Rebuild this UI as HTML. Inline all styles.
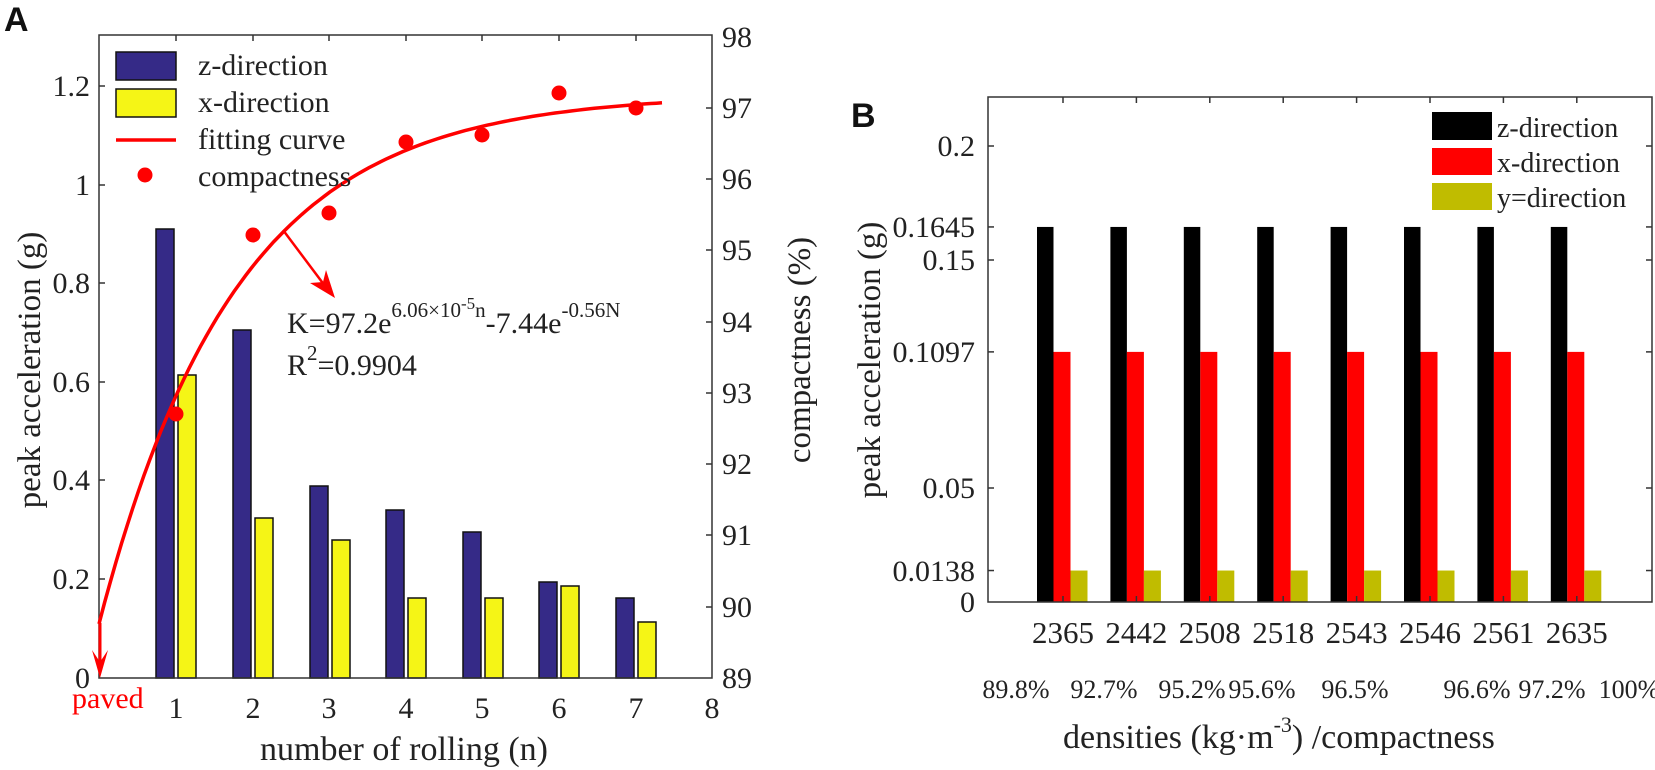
<!DOCTYPE html>
<html><head><meta charset="utf-8"><style>
html,body{margin:0;padding:0;background:#fff;}
svg{display:block;}
text{font-family:"Liberation Serif",serif;fill:#222;}
</style></head><body>
<svg width="1655" height="770" viewBox="0 0 1655 770" xmlns="http://www.w3.org/2000/svg">
<text x="4" y="31" style="font-family:'Liberation Sans',sans-serif;font-weight:bold;font-size:34px;fill:#111">A</text>
<text x="851" y="127" style="font-family:'Liberation Sans',sans-serif;font-weight:bold;font-size:34px;fill:#111">B</text>

<!-- Panel A bars -->
<g stroke="#111" stroke-width="1.5">
<rect x="156" y="229" width="18" height="449" fill="#352a87"/>
<rect x="178" y="375" width="18" height="303" fill="#f5f516"/>
<rect x="233" y="330" width="18" height="348" fill="#352a87"/>
<rect x="255" y="518" width="18" height="160" fill="#f5f516"/>
<rect x="310" y="486" width="18" height="192" fill="#352a87"/>
<rect x="332" y="540" width="18" height="138" fill="#f5f516"/>
<rect x="386" y="510" width="18" height="168" fill="#352a87"/>
<rect x="408" y="598" width="18" height="80" fill="#f5f516"/>
<rect x="463" y="532" width="18" height="146" fill="#352a87"/>
<rect x="485" y="598" width="18" height="80" fill="#f5f516"/>
<rect x="539" y="582" width="18" height="96" fill="#352a87"/>
<rect x="561" y="586" width="18" height="92" fill="#f5f516"/>
<rect x="616" y="598" width="18" height="80" fill="#352a87"/>
<rect x="638" y="622" width="18" height="56" fill="#f5f516"/>
</g>
<!-- axes A -->
<rect x="99" y="35" width="613" height="643" fill="none" stroke="#333" stroke-width="1.5"/>
<g stroke="#333" stroke-width="1.5">
<line x1="99" y1="86" x2="105" y2="86"/><line x1="99" y1="185" x2="105" y2="185"/><line x1="99" y1="283" x2="105" y2="283"/><line x1="99" y1="382" x2="105" y2="382"/><line x1="99" y1="480" x2="105" y2="480"/><line x1="99" y1="579" x2="105" y2="579"/>
<line x1="712" y1="108" x2="706" y2="108"/><line x1="712" y1="179" x2="706" y2="179"/><line x1="712" y1="250" x2="706" y2="250"/><line x1="712" y1="322" x2="706" y2="322"/><line x1="712" y1="393" x2="706" y2="393"/><line x1="712" y1="464" x2="706" y2="464"/><line x1="712" y1="535" x2="706" y2="535"/><line x1="712" y1="607" x2="706" y2="607"/>
<line x1="176" y1="35" x2="176" y2="41"/><line x1="253" y1="35" x2="253" y2="41"/><line x1="329" y1="35" x2="329" y2="41"/><line x1="406" y1="35" x2="406" y2="41"/><line x1="482" y1="35" x2="482" y2="41"/><line x1="559" y1="35" x2="559" y2="41"/><line x1="636" y1="35" x2="636" y2="41"/>
</g>
<g font-size="30" text-anchor="end">
<text x="90" y="96">1.2</text><text x="90" y="195">1</text><text x="90" y="293">0.8</text><text x="90" y="392">0.6</text><text x="90" y="490">0.4</text><text x="90" y="589">0.2</text><text x="90" y="688">0</text>
</g>
<g font-size="30" text-anchor="start">
<text x="722" y="47">98</text><text x="722" y="118">97</text><text x="722" y="189">96</text><text x="722" y="260">95</text><text x="722" y="332">94</text><text x="722" y="403">93</text><text x="722" y="474">92</text><text x="722" y="545">91</text><text x="722" y="617">90</text><text x="722" y="688">89</text>
</g>
<g font-size="30" text-anchor="middle">
<text x="176" y="718">1</text><text x="253" y="718">2</text><text x="329" y="718">3</text><text x="406" y="718">4</text><text x="482" y="718">5</text><text x="559" y="718">6</text><text x="636" y="718">7</text><text x="712" y="718">8</text>
</g>
<text x="72" y="708" font-size="30" style="fill:#f00">paved</text>
<text x="260" y="760" font-size="34">number of rolling (n)</text>
<text transform="translate(40,370) rotate(-90)" font-size="33" text-anchor="middle">peak acceleration (g)</text>
<text transform="translate(810,350) rotate(-90)" font-size="33" text-anchor="middle">compactness (%)</text>

<polyline id="fc" fill="none" stroke="#f00" stroke-width="3.5" points=""/>
<g fill="#f00">
<circle cx="176" cy="414" r="7.5"/><circle cx="253" cy="235" r="7.5"/><circle cx="329" cy="213" r="7.5"/><circle cx="406" cy="142" r="7.5"/><circle cx="482" cy="135" r="7.5"/><circle cx="559" cy="93" r="7.5"/><circle cx="636" cy="108" r="7.5"/>
</g>
<!-- paved arrow -->
<line x1="100" y1="623" x2="100" y2="668" stroke="#f00" stroke-width="3"/>
<path d="M92,650 L100,678 L108,650 L100,662 Z" fill="#f00"/>
<!-- fit arrow -->
<line x1="283" y1="230" x2="328" y2="290" stroke="#f00" stroke-width="2.5"/>
<path d="M335,298 L310,283 L323,282 L326,270 Z" fill="#f00"/>
<text x="287" y="333" font-size="30">K=97.2e<tspan font-size="21" dy="-16">6.06×10</tspan><tspan font-size="17" dy="-8">-5</tspan><tspan font-size="21" dy="8">n</tspan><tspan dy="16">-7.44e</tspan><tspan font-size="21" dy="-16">-0.56N</tspan></text>
<text x="287" y="375" font-size="30">R<tspan font-size="21" dy="-15">2</tspan><tspan dy="15">=0.9904</tspan></text>

<!-- legend A -->
<rect x="116" y="52" width="60" height="28" fill="#352a87" stroke="#111" stroke-width="1.5"/>
<rect x="116" y="89" width="60" height="28" fill="#f5f516" stroke="#111" stroke-width="1.5"/>
<line x1="116" y1="140" x2="176" y2="140" stroke="#f00" stroke-width="3.5"/>
<circle cx="145" cy="175" r="7.5" fill="#f00"/>
<g font-size="30">
<text x="198" y="75">z-direction</text><text x="198" y="112">x-direction</text><text x="198" y="149">fitting curve</text><text x="198" y="186">compactness</text>
</g>

<!-- Panel B -->
<g id="bbars"></g>
<rect x="988" y="97" width="664" height="505" fill="none" stroke="#333" stroke-width="1.5"/>
<g font-size="30" text-anchor="end">
<text x="975" y="156">0.2</text><text x="975" y="237">0.1645</text><text x="975" y="270">0.15</text><text x="975" y="362">0.1097</text><text x="975" y="498">0.05</text><text x="975" y="581">0.0138</text><text x="975" y="612">0</text>
</g>
<g font-size="31" text-anchor="middle" id="bxl"></g>
<g font-size="26" text-anchor="middle">
<text x="1016" y="698">89.8%</text><text x="1104" y="698">92.7%</text><text x="1192" y="698">95.2%</text><text x="1262" y="698">95.6%</text><text x="1355" y="698">96.5%</text><text x="1477" y="698">96.6%</text><text x="1552" y="698">97.2%</text><text x="1629" y="698">100%</text>
</g>
<text x="1063" y="748" font-size="34">densities (kg·m<tspan font-size="22" dy="-16">-3</tspan><tspan dy="16">) /compactness</tspan></text>
<text transform="translate(880,360) rotate(-90)" font-size="33" text-anchor="middle">peak acceleration (g)</text>
<rect x="1432" y="112" width="60" height="28" fill="#000"/>
<rect x="1432" y="148" width="60" height="27" fill="#f00"/>
<rect x="1432" y="183" width="60" height="27" fill="#c0bc00"/>
<g font-size="28">
<text x="1497" y="137">z-direction</text><text x="1497" y="172">x-direction</text><text x="1497" y="207">y=direction</text>
</g>
<g id="bticks" stroke="#333" stroke-width="1.5"></g>
<script>
(function(){
var ns="http://www.w3.org/2000/svg";
function el(t,a,p){var e=document.createElementNS(ns,t);for(var k in a)e.setAttribute(k,a[k]);p.appendChild(e);return e;}
var pts=[];for(var i=0;i<=100;i++){var n=i*7.35/100;var K=97.2-7.44*Math.exp(-0.56*n);pts.push((99+76.6*n).toFixed(1)+","+(678-(K-89)*71.2).toFixed(1));}
document.getElementById("fc").setAttribute("points",pts.join(" "));
var bb=document.getElementById("bbars"),bt=document.getElementById("bticks"),bx=document.getElementById("bxl");
var labs=["2365","2442","2508","2518","2543","2546","2561","2635"];
function Y(v){return 602-v*2280;}
for(var j=0;j<8;j++){var c=1063+73.4*j;
el("rect",{x:c-26,y:Y(0.1645),width:16.5,height:602-Y(0.1645),fill:"#000"},bb);
el("rect",{x:c-9.5,y:Y(0.1097),width:17,height:602-Y(0.1097),fill:"#f00"},bb);
el("rect",{x:c+7.5,y:Y(0.0138),width:17,height:602-Y(0.0138),fill:"#c0bc00"},bb);
el("line",{x1:c,y1:602,x2:c,y2:596},bt);el("line",{x1:c,y1:97,x2:c,y2:103},bt);
var t=el("text",{x:c,y:643},bx);t.textContent=labs[j];}
[0.2,0.1645,0.15,0.1097,0.05,0.0138].forEach(function(v){var y=Y(v);el("line",{x1:988,y1:y,x2:994,y2:y},bt);el("line",{x1:1652,y1:y,x2:1646,y2:y},bt);});
})();
</script>
</svg>
</body></html>
